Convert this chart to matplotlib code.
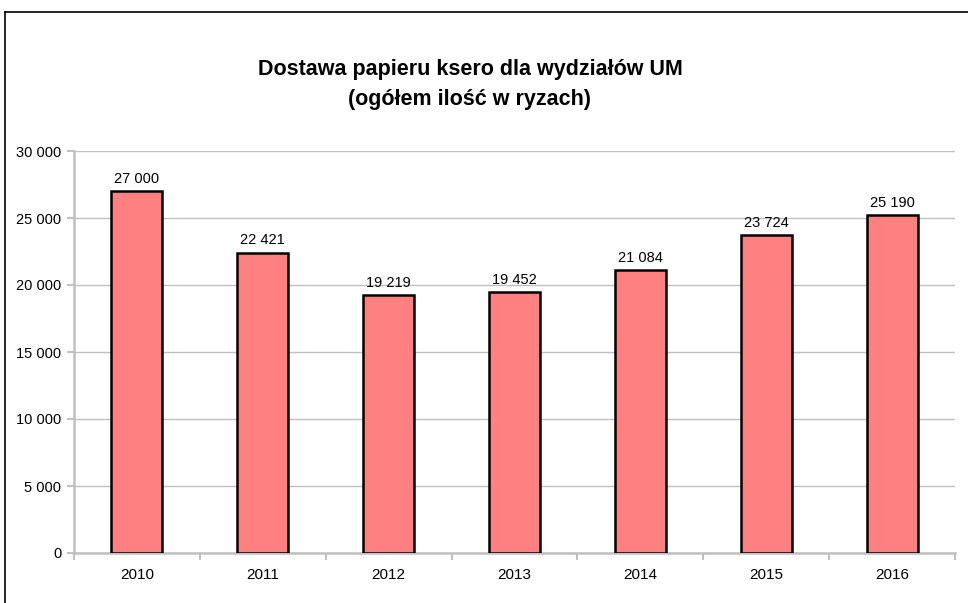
import matplotlib.pyplot as plt
from matplotlib.lines import Line2D
from matplotlib.ticker import FuncFormatter

lata = ["2010", "2011", "2012", "2013", "2014", "2015", "2016"]
ryzy = [27000, 22421, 19219, 19452, 21084, 23724, 25190]
y_ticks = [0, 5000, 10000, 15000, 20000, 25000, 30000]

plt.rcParams["font.family"] = ["Liberation Sans", "DejaVu Sans"]

def fmt(v, pos=None):
    return f"{int(v):,}".replace(",", " ")

fig = plt.figure(figsize=(9.68, 6.03), dpi=100)
W, H = 968, 603
ax = fig.add_axes([74 / W, (H - 553) / H, (955 - 74) / W, (553 - 151) / H])

x = range(len(lata))
bars = ax.bar(x, ryzy, width=0.405, color="#FF8080", edgecolor="black",
              linewidth=1.8, zorder=3)
for xi, v in zip(x, ryzy):
    ax.annotate(fmt(v), (xi, v), xytext=(0, 4), textcoords="offset points",
                ha="center", va="bottom", fontsize=10.5)

ax.set_xlim(-0.5, len(lata) - 0.5)
ax.set_ylim(0, 30000)
ax.set_yticks(y_ticks)
ax.yaxis.set_major_formatter(FuncFormatter(fmt))
ax.grid(axis="y", color="#c0c0c0", linewidth=1, zorder=0)

ax.set_xticks(list(x))
ax.set_xticklabels(lata)
ax.set_xticks([i - 0.5 for i in range(len(lata) + 1)], minor=True)
ax.tick_params(axis="x", which="major", length=0, pad=11, labelsize=11)
ax.tick_params(axis="x", which="minor", length=5, color="#c0c0c0", width=1.5)
ax.tick_params(axis="y", length=5, color="#c0c0c0", width=1.5, labelsize=10.5, pad=4)

for s in ["top", "right"]:
    ax.spines[s].set_visible(False)
for s in ["left", "bottom"]:
    ax.spines[s].set_color("#c0c0c0")
    ax.spines[s].set_linewidth(1.8)

fig.text(470 / W, 1 - 70 / H, "Dostawa papieru ksero dla wydziałów UM",
         ha="center", va="center", fontsize=15.5, fontweight="bold")
fig.text(470 / W, 1 - 100 / H, "(ogółem ilość w ryzach)",
         ha="center", va="center", fontsize=15.5, fontweight="bold")

# ramka wykresu (przycięta)
fig.add_artist(Line2D([5 / W, 5 / W], [0, 1 - 12 / H], color="black", linewidth=1.2))
fig.add_artist(Line2D([5 / W, 1], [1 - 12 / H, 1 - 12 / H], color="black", linewidth=1.2))

fig.savefig("out.png", dpi=100)
